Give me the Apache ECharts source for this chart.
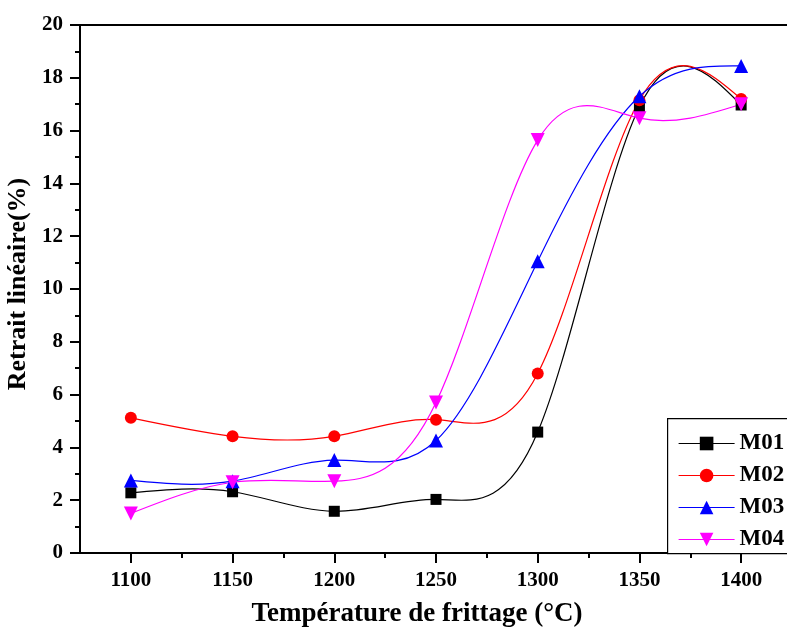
<!DOCTYPE html>
<html>
<head>
<meta charset="utf-8">
<script src="https://cdn.jsdelivr.net/npm/echarts@6/dist/echarts.min.js"></script>
<style>html,body{margin:0;padding:0;background:#fff}#c{width:787px;height:628px}</style>
</head>
<body>
<div id="c"></div>
<script>
const temps = [1100, 1150, 1200, 1250, 1300, 1350, 1400];
const m01 = [2.28, 2.32, 1.58, 2.03, 4.58, 16.9, 16.97];
const m02 = [5.12, 4.42, 4.42, 5.05, 6.8, 17.15, 17.2];
const m03 = [2.75, 2.72, 3.52, 4.26, 11.05, 17.3, 18.45];
const m04 = [1.5, 2.68, 2.72, 5.7, 15.64, 16.47, 17.0];
const seriesNames = ['M01', 'M02', 'M03', 'M04'];
const xLabelValues = [1100, 1150, 1200, 1250, 1300, 1350, 1400];
const xMinorValues = [1125, 1175, 1225, 1275, 1325, 1375];

const font = 'Liberation Serif';
const colors = ['#000000', '#ff0000', '#0000ff', '#ff00ff'];
const allVals = [m01, m02, m03, m04];
const chart = echarts.init(document.getElementById('c'), null, {renderer: 'canvas'});

// natural cubic spline path through pixel points (rendering of the connecting curve)
function splinePath(pts) {
  const n = pts.length;
  const h = [], M = new Array(n).fill(0);
  for (let i = 0; i < n - 1; i++) h.push(pts[i + 1][0] - pts[i][0]);
  const a = [], b = [], c = [], d = [];
  for (let i = 1; i < n - 1; i++) {
    a.push(h[i - 1]);
    b.push(2 * (h[i - 1] + h[i]));
    c.push(h[i]);
    d.push(6 * ((pts[i + 1][1] - pts[i][1]) / h[i] - (pts[i][1] - pts[i - 1][1]) / h[i - 1]));
  }
  const m = b.length;
  for (let i = 1; i < m; i++) {
    const w = a[i] / b[i - 1];
    b[i] -= w * c[i - 1];
    d[i] -= w * d[i - 1];
  }
  const sol = new Array(m);
  for (let i = m - 1; i >= 0; i--) sol[i] = (d[i] - (i < m - 1 ? c[i] * sol[i + 1] : 0)) / b[i];
  for (let i = 0; i < m; i++) M[i + 1] = sol[i];
  let p = 'M' + pts[0][0] + ' ' + pts[0][1];
  for (let i = 0; i < n - 1; i++) {
    const hi = h[i];
    const s = (pts[i + 1][1] - pts[i][1]) / hi;
    const d0 = s - hi * (2 * M[i] + M[i + 1]) / 6;
    const d1 = s + hi * (M[i] + 2 * M[i + 1]) / 6;
    const x1 = pts[i][0] + hi / 3, y1 = pts[i][1] + d0 * hi / 3;
    const x2 = pts[i + 1][0] - hi / 3, y2 = pts[i + 1][1] - d1 * hi / 3;
    p += ' C' + x1 + ' ' + y1 + ' ' + x2 + ' ' + y2 + ' ' + pts[i + 1][0] + ' ' + pts[i + 1][1];
  }
  return p;
}

function curve(idx) {
  const vals = allVals[idx];
  return {
    type: 'custom',
    silent: true,
    z: 2,
    data: temps.map((t, i) => [t, vals[i]]),
    renderItem: function (params, api) {
      if (params.dataIndex !== 0) return null;
      const pts = temps.map((t, i) => api.coord([t, vals[i]]));
      return {
        type: 'path',
        shape: {pathData: splinePath(pts)},
        style: {fill: null, stroke: colors[idx], lineWidth: 1.2}
      };
    }
  };
}

function marks(idx, symbol, size, rotate) {
  const vals = allVals[idx];
  return {
    name: seriesNames[idx],
    type: 'line',
    data: temps.map((t, i) => [t, vals[i]]),
    symbol: symbol,
    symbolSize: size,
    symbolRotate: rotate || 0,
    showAllSymbol: true,
    lineStyle: {color: colors[idx], width: 1.2, opacity: 0},
    itemStyle: {color: colors[idx]},
    z: 3
  };
}

chart.setOption({
  animation: false,
  backgroundColor: '#fff',
  grid: {left: 80, top: 25, width: 712, bottom: 75, outerBoundsMode: 'none', containLabel: false, show: true, borderColor: '#000', borderWidth: 2, backgroundColor: 'transparent'},
  graphic: [{
    type: 'rect',
    left: 667, top: 418,
    shape: {width: 160, height: 135},
    style: {fill: '#fff', stroke: '#000', lineWidth: 1.2},
    z: 5
  }],
  legend: {
    orient: 'vertical',
    left: 667,
    top: 418,
    padding: [14, 10, 4, 11],
    itemGap: 9,
    itemWidth: 56,
    itemHeight: 17,
    borderWidth: 0,
    z: 10,
    textStyle: {fontFamily: font, fontWeight: 'bold', fontSize: 23, color: '#000'},
    data: seriesNames.map((n, i) => ({name: n, lineStyle: {opacity: 1, color: colors[i], width: 1.2}}))
  },
  xAxis: [{
    type: 'value',
    min: 1075, max: 1425, interval: 25,
    name: 'Température de frittage (°C)',
    nameLocation: 'middle',
    nameGap: 48,
    nameTextStyle: {fontFamily: font, fontWeight: 'bold', fontSize: 27, color: '#000', padding: [0, 38, 0, 0]},
    axisLine: {show: true, lineStyle: {color: '#000', width: 2}},
    axisTick: {show: true, customValues: xLabelValues, length: 10, lineStyle: {color: '#000', width: 2}},
    axisLabel: {customValues: xLabelValues, formatter: v => String(v), fontFamily: font, fontWeight: 'bold', fontSize: 21, color: '#000', margin: 17},
    splitLine: {show: false}
  }, {
    type: 'value',
    position: 'bottom',
    min: 1075, max: 1425, interval: 25,
    axisLine: {show: false},
    axisTick: {show: true, customValues: xMinorValues, length: 5, lineStyle: {color: '#000', width: 2}},
    axisLabel: {show: false},
    splitLine: {show: false}
  }],
  yAxis: {
    type: 'value',
    min: 0, max: 20, interval: 2,
    name: 'Retrait linéaire(%)',
    nameLocation: 'middle',
    nameGap: 42,
    nameTextStyle: {fontFamily: font, fontWeight: 'bold', fontSize: 26, color: '#000', padding: [0, 0, 0, 10]},
    axisLine: {show: true, lineStyle: {color: '#000', width: 2}},
    axisTick: {show: true, length: 10, lineStyle: {color: '#000', width: 2}},
    minorTick: {show: true, splitNumber: 2, length: 5, lineStyle: {color: '#000', width: 2}},
    axisLabel: {fontFamily: font, fontWeight: 'bold', fontSize: 21, color: '#000', margin: 17},
    splitLine: {show: false},
    minorSplitLine: {show: false}
  },
  series: [
    curve(0), curve(1), curve(2), curve(3),
    marks(0, 'rect', 11),
    marks(1, 'circle', 12),
    marks(2, 'triangle', 14),
    marks(3, 'triangle', 14, 180)
  ]
});
</script>
</body>
</html>
